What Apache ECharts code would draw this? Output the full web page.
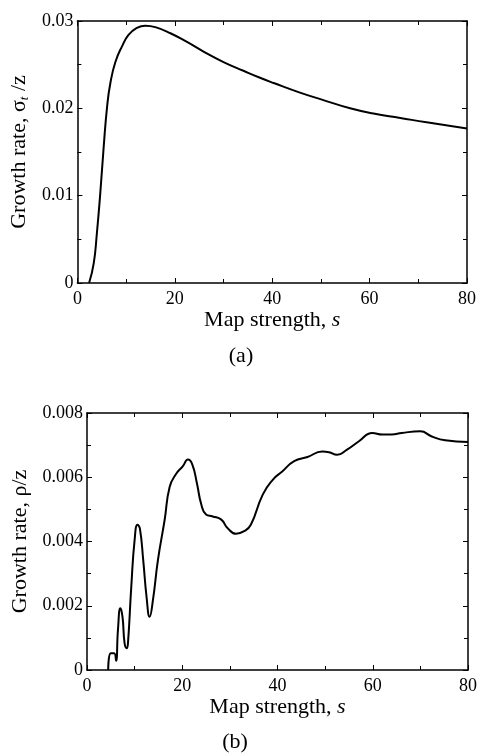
<!DOCTYPE html>
<html><head><meta charset="utf-8">
<script src="https://cdn.jsdelivr.net/npm/echarts@6/dist/echarts.min.js"></script>
<style>html,body{margin:0;padding:0;background:#fff}#c{width:480px;height:754px}</style>
</head><body><div id="c"></div>
<script>
// Panel (a): growth rate sigma_t/z vs map strength s
const sA = [2.4, 3.35, 4.0, 4.7, 5.4, 6.1, 6.77, 7.8, 9.16, 10.5, 12.2, 13.95, 16, 19.1, 22.5, 25.9, 30, 34.1, 37.5, 40.3, 45.7, 50.2, 56, 60.8, 66.3, 71.7, 80];
const gA = [0, 0.00225, 0.0057, 0.0103, 0.0156, 0.0202, 0.0229, 0.0253, 0.0271, 0.0284, 0.0292, 0.02947, 0.0293, 0.0286, 0.0276, 0.0265, 0.0253, 0.0243, 0.0235, 0.0229, 0.0218, 0.021, 0.02, 0.0194, 0.0189, 0.0184, 0.0177];
// Panel (b): growth rate rho/z vs map strength s
const sB = [4.45, 5.0, 5.7, 6.1, 6.5, 7.0, 7.45, 7.9, 8.35, 8.6, 9.3, 10.0, 10.6, 11.1, 11.8, 12.5, 13.15, 13.85, 14.9, 16.3, 17.35, 18.7, 20.1, 21.2, 22.1, 23.1, 24.0, 25.0, 26.4, 28.2, 29.5, 31.3, 33.0, 34.4, 36.9, 39.0, 41.0, 43.5, 46.3, 49.4, 50.8, 52.5, 54.6, 57.1, 59.9, 62, 64, 66.1, 70, 72.4, 75.2, 80];
const gB = [0, 0.00052, 0.00052, 0.00029, 0.00125, 0.00192, 0.00166, 0.00083, 0.00068, 0.00083, 0.0026, 0.00405, 0.00452, 0.00441, 0.00343, 0.00228, 0.00166, 0.00218, 0.00343, 0.00467, 0.0057, 0.0061, 0.00634, 0.00655, 0.0064, 0.0058, 0.00515, 0.00484, 0.00478, 0.00468, 0.00442, 0.00424, 0.00432, 0.00452, 0.00546, 0.00592, 0.00618, 0.0065, 0.00663, 0.0068, 0.00678, 0.0067, 0.00686, 0.00712, 0.00738, 0.00733, 0.00733, 0.00738, 0.00743, 0.00727, 0.00715, 0.0071];
const xTitle = 'Map strength, ';
const yTitleA = 'Growth rate, σ';
const yTitleB = 'Growth rate, ρ/z';
const panelA = '(a)';
const panelB = '(b)';

const FONT = '"Liberation Serif", "DejaVu Serif", serif';
const chart = echarts.init(document.getElementById('c'), null, {renderer: 'canvas'});
const lineStyle = {color: '#000', width: 1.5};
function xAx(grid, show) {
  return {
    type: 'value', gridIndex: grid, min: 0, max: 80, interval: 20,
    position: show ? 'bottom' : 'top',
    axisLine: {show: true, onZero: false, lineStyle: lineStyle},
    axisTick: {show: true, inside: true, length: 5, lineStyle: {color: '#000', width: 1}},
    minorTick: {show: true, splitNumber: 2, length: 4, lineStyle: {color: '#000', width: 1}},
    axisLabel: {show: show, color: '#000', fontFamily: FONT, fontSize: 18, margin: 7},
    splitLine: {show: false},
    name: show ? '{n|' + xTitle + '}{i|s}' : '',
    nameLocation: 'middle', nameGap: 24,
    nameTextStyle: {rich: {n: {fontFamily: FONT, fontSize: 22, color: '#000'}, i: {fontFamily: FONT, fontSize: 22, fontStyle: 'italic', color: '#000'}}}
  };
}
function yAx(grid, show, max, interval, name, gap, minorSplit) {
  return {
    type: 'value', gridIndex: grid, min: 0, max: max, interval: interval,
    position: show ? 'left' : 'right',
    axisLine: {show: true, onZero: false, lineStyle: lineStyle},
    axisTick: {show: true, inside: true, length: 5, lineStyle: {color: '#000', width: 1}},
    minorTick: {show: true, splitNumber: minorSplit, length: 4, lineStyle: {color: '#000', width: 1}},
    axisLabel: {show: show, color: '#000', fontFamily: FONT, fontSize: 18, margin: 4,
      formatter: v => v === 0 ? '0' : String(+v.toFixed(4))},
    splitLine: {show: false},
    name: show ? name : '', nameLocation: 'middle', nameGap: gap, nameRotate: 90,
    nameTextStyle: {color: '#000', fontFamily: FONT, fontSize: 22,
      rich: {n: {fontFamily: FONT, fontSize: 22, color: '#000'},
             sub: {fontFamily: FONT, fontSize: 13, fontStyle: 'italic', color: '#000', padding: [11, 0, 0, 0]}}}
  };
}
chart.setOption({
  animation: false,
  backgroundColor: '#fff',
  grid: [
    {left: 77, top: 21, width: 390, height: 262},
    {left: 87, top: 413, width: 383, height: 257}
  ],
  xAxis: [xAx(0, true), xAx(0, false), xAx(1, true), xAx(1, false)],
  yAxis: [
    yAx(0, true, 0.03, 0.01, '{n|' + yTitleA + '}{sub|t}{n| /z}', 45, 2),
    yAx(0, false, 0.03, 0.01, '', 0, 2),
    yAx(1, true, 0.008, 0.002, yTitleB, 53, 2),
    yAx(1, false, 0.008, 0.002, '', 0, 2)
  ],
  series: [
    {type: 'line', xAxisIndex: 0, yAxisIndex: 0, data: sA.map((s, i) => [s, gA[i]]),
     smooth: 0.5, showSymbol: false, lineStyle: {color: '#000', width: 2}},
    {type: 'line', xAxisIndex: 2, yAxisIndex: 2, data: sB.map((s, i) => [s, gB[i]]),
     smooth: 0.5, showSymbol: false, lineStyle: {color: '#000', width: 2}}
  ],
  graphic: [
    {type: 'text', x: 241, y: 356, style: {text: panelA, fontFamily: FONT, fontSize: 22, fill: '#000', align: 'center', verticalAlign: 'middle'}},
    {type: 'text', x: 235, y: 742, style: {text: panelB, fontFamily: FONT, fontSize: 22, fill: '#000', align: 'center', verticalAlign: 'middle'}}
  ]
});
</script>
</body></html>
